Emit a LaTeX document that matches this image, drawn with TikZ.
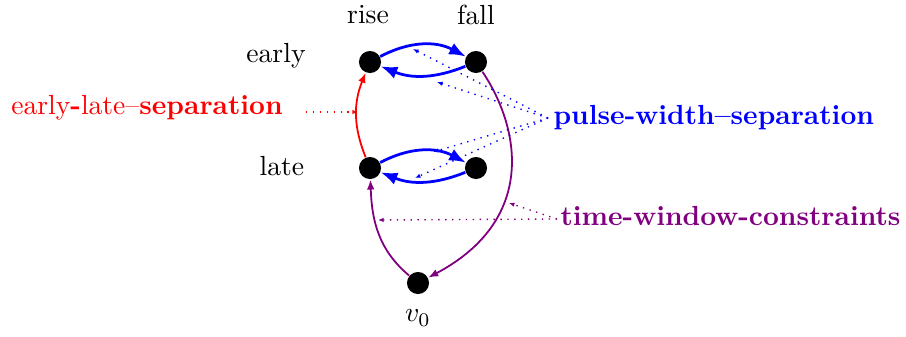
\documentclass[tikz,border=0pt]{standalone}
\usetikzlibrary{arrows.meta}
\definecolor{vio}{RGB}{128,0,128}
\begin{document}
\begin{tikzpicture}[x=0.362pt,y=0.362pt,
  dot/.style={circle,fill=black,inner sep=0pt,minimum size=8pt},
  barc/.style={blue,line width=1pt,-{Latex[length=6pt,width=4.6pt]}},
  parc/.style={vio,line width=0.65pt,-{Latex[length=3.6pt,width=2.8pt]}},
  rarc/.style={red,line width=0.65pt,-{Latex[length=3.6pt,width=2.8pt]}},
  ann/.style={dotted,line width=0.5pt,-{Latex[length=2pt,width=1.6pt]}}]
\useasboundingbox (0,0) rectangle (906,336);
\node[dot] (ER) at (370,274) {};
\node[dot] (EF) at (476,274) {};
\node[dot] (LR) at (370,168) {};
\node[dot] (LF) at (476,168) {};
\node[dot] (V) at (418,53) {};
\node (trise) at (368,321) {rise};
\node (tfall) at (476,321) {fall};
\node (tearly) at (276,280) {early};
\node (tlate) at (282,170) {late};
\node (tv) at (418,18) {$v_0$};
\node[red] (sep) at (147,228) {early\textbf{-}late--\textbf{separation}};
\node[blue,anchor=west,inner sep=0pt] (pw) at (553,218) {\textbf{pulse-width--separation}};
\node[vio,anchor=west,inner sep=0pt] (tw) at (560,120) {\textbf{time-window-constraints}};
% blue arcs
\draw[barc] (ER) to[bend left=28] (EF);
\draw[barc] (EF) to[bend left=22] (ER);
\draw[barc] (LR) to[bend left=28] (LF);
\draw[barc] (LF) to[bend left=22] (LR);
% red
\draw[rarc] (LR) to[bend left=22] (ER);
% purple
\draw[parc] (EF) .. controls (522,205) and (535,115) .. (V);
\draw[parc] (V) to[out=140,in=-88] (LR);
% annotations
\coordinate (rs) at (306,224);
\coordinate (re) at (358,224);
\draw[ann,red] (rs) -- (re);
\coordinate (pa) at (548,218);
\coordinate (p1) at (413,287);
\coordinate (p2) at (437,254);
\coordinate (p3) at (433,184);
\coordinate (p4) at (415,158);
\draw[ann,blue] (pa) -- (p1);
\draw[ann,blue] (pa) -- (p2);
\draw[ann,blue] (pa) -- (p3);
\draw[ann,blue] (pa) -- (p4);
\coordinate (ta) at (557,117);
\coordinate (t1) at (509,133);
\coordinate (t2) at (378,116);
\draw[ann,vio] (ta) -- (t1);
\draw[ann,vio] (ta) -- (t2);
\end{tikzpicture}
\end{document}
